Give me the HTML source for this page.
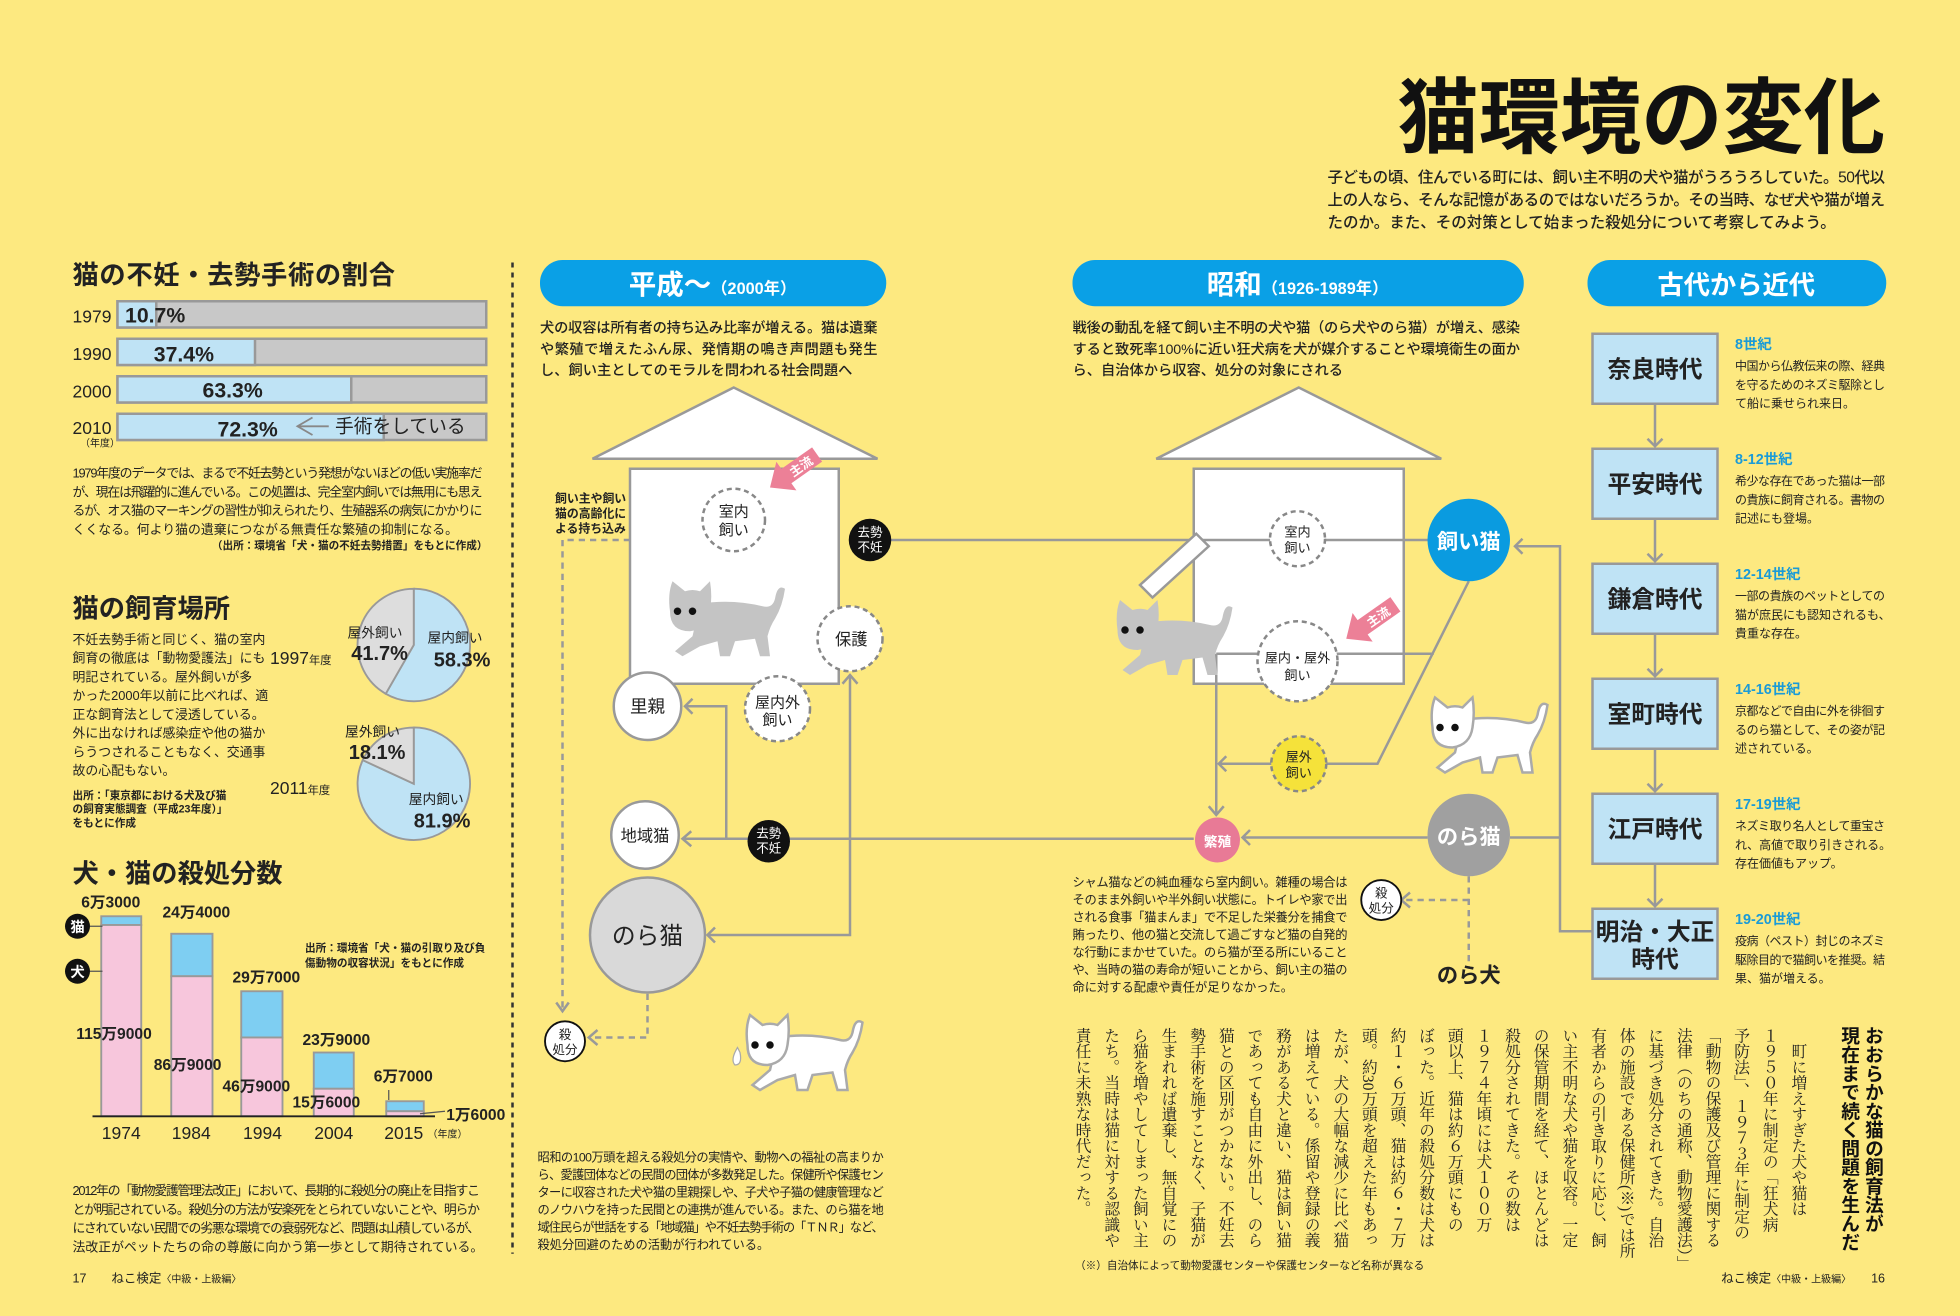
<!DOCTYPE html>
<html><head><meta charset="utf-8">
<style>
html,body{margin:0;padding:0;background:#FDE980;}
#s{width:1568px;height:1053px;transform:scale(1.25);transform-origin:0 0;position:relative;overflow:hidden;background:#FDE980;font-family:"Liberation Sans","Noto Sans CJK JP",sans-serif;}
svg{position:absolute;left:0;top:0;}
text{font-family:"Liberation Sans","Noto Sans CJK JP",sans-serif;fill:#222;}
.b{font-weight:bold;}
.vh{position:absolute;writing-mode:vertical-rl;font-family:"Liberation Sans","Noto Sans CJK JP",sans-serif;font-weight:bold;font-size:15px;line-height:19px;color:#111;white-space:nowrap;}
.vb{position:absolute;writing-mode:vertical-rl;font-family:"Liberation Serif","Noto Serif CJK SC",serif;font-size:12.6px;line-height:22.9px;color:#222;white-space:nowrap;}
</style></head><body>
<div id="s">
<svg width="1568" height="1053" viewBox="0 0 1568 1053">
<defs>
<g id="cat">
  <path d="M30,18 Q55,14 80,20 Q88,22 90,14 Q92,2 98,6 Q96,20 90,30 Q86,36 84,44 L86,60 L78,60 L74,46 L58,48 L54,60 L46,60 L44,48 L30,52 L16,60 L10,56 L24,44 Z"/>
  <path d="M6,24 Q4,10 8,0 L18,8 Q24,6 30,8 L38,0 Q40,12 38,24 Q36,38 22,40 Q6,40 6,24 Z"/>
</g>
</defs>

<!-- title -->
<text x="1118" y="117" class="b" font-size="66" textLength="390" lengthAdjust="spacingAndGlyphs" style="fill:#111">猫環境の変化</text>
<g font-size="12.4" class="b" style="font-weight:500">
<text x="1062" y="146" textLength="446">子どもの頃、住んでいる町には、飼い主不明の犬や猫がうろうろしていた。50代以</text>
<text x="1062" y="164" textLength="446">上の人なら、そんな記憶があるのではないだろうか。その当時、なぜ犬や猫が増え</text>
<text x="1062" y="182">たのか。また、その対策として始まった殺処分について考察してみよう。</text>
</g>

<!-- divider -->
<line x1="410" y1="210" x2="410" y2="1003" stroke="#333" stroke-width="2" stroke-dasharray="4 4"/>

<!-- ===== LEFT: sterilization bars ===== -->
<text x="58" y="227" class="b" font-size="21" textLength="258">猫の不妊・去勢手術の割合</text>
<g font-size="14" font-weight="500">
<text x="58" y="258">1979</text><text x="58" y="288">1990</text><text x="58" y="318">2000</text><text x="58" y="347">2010</text>
</g>
<text x="64" y="357" font-size="8">（年度）</text>
<g stroke="#999" stroke-width="2">
<rect x="94" y="241" width="295" height="21" fill="#c8c8c8"/><rect x="94" y="241" width="31" height="21" fill="#bfe3f5"/>
<rect x="94" y="271" width="295" height="21" fill="#c8c8c8"/><rect x="94" y="271" width="110" height="21" fill="#bfe3f5"/>
<rect x="94" y="301" width="295" height="21" fill="#c8c8c8"/><rect x="94" y="301" width="187" height="21" fill="#bfe3f5"/>
<rect x="94" y="331" width="295" height="21" fill="#c8c8c8"/><rect x="94" y="331" width="213" height="21" fill="#bfe3f5"/>
</g>
<g class="b" font-size="17">
<text x="100" y="258">10.7%</text><text x="123" y="289">37.4%</text><text x="162" y="318">63.3%</text><text x="174" y="349">72.3%</text>
</g>
<polyline points="250,334 238,341 250,348" fill="none" stroke="#888" stroke-width="1.5"/>
<line x1="238" y1="341" x2="263" y2="341" stroke="#888" stroke-width="1.5"/>
<text x="268" y="346" font-size="15">手術をしている</text>
<g font-size="10.3">
<text x="58" y="382" textLength="328">1979年度のデータでは、まるで不妊去勢という発想がないほどの低い実施率だ</text>
<text x="58" y="397" textLength="328">が、現在は飛躍的に進んでいる。この処置は、完全室内飼いでは無用にも思え</text>
<text x="58" y="412" textLength="328">るが、オス猫のマーキングの習性が抑えられたり、生殖器系の病気にかかりに</text>
<text x="58" y="427">くくなる。何より猫の遺棄につながる無責任な繁殖の抑制になる。</text>
</g>
<text x="390" y="439" font-size="8.5" class="b" text-anchor="end">（出所：環境省「犬・猫の不妊去勢措置」をもとに作成）</text>

<!-- ===== LEFT: pies ===== -->
<text x="58" y="494" class="b" font-size="21">猫の飼育場所</text>
<g font-size="10.3">
<text x="58" y="515">不妊去勢手術と同じく、猫の室内</text>
<text x="58" y="530">飼育の徹底は「動物愛護法」にも</text>
<text x="58" y="545">明記されている。屋外飼いが多</text>
<text x="58" y="560">かった2000年以前に比べれば、適</text>
<text x="58" y="575">正な飼育法として浸透している。</text>
<text x="58" y="590">外に出なければ感染症や他の猫か</text>
<text x="58" y="605">らうつされることもなく、交通事</text>
<text x="58" y="620">故の心配もない。</text>
</g>
<g font-size="8.5" class="b">
<text x="58" y="639">出所：「東京都における犬及び猫</text>
<text x="58" y="650">の飼育実態調査（平成23年度）」</text>
<text x="58" y="661">をもとに作成</text>
</g>
<g stroke="#999" stroke-width="1.5">
<path d="M331,516 L331,471 A45,45 0 1 1 308.6,555 Z" fill="#bfe3f5"/>
<path d="M331,516 L308.6,555 A45,45 0 0 1 331,471 Z" fill="#ddd"/>
<path d="M331,627 L331,582 A45,45 0 1 1 290.2,608.1 Z" fill="#bfe3f5"/>
<path d="M331,627 L290.2,608.1 A45,45 0 0 1 331,582 Z" fill="#ddd"/>
</g>
<text x="216" y="531" font-size="14">1997<tspan font-size="9">年度</tspan></text>
<text x="216" y="635" font-size="14">2011<tspan font-size="9">年度</tspan></text>
<g font-size="11">
<text x="278" y="510">屋外飼い</text><text x="342" y="514">屋内飼い</text>
<text x="276" y="589">屋外飼い</text><text x="327" y="643">屋内飼い</text>
</g>
<g class="b" font-size="16">
<text x="281" y="528">41.7%</text><text x="347" y="533">58.3%</text>
<text x="279" y="607">18.1%</text><text x="331" y="662">81.9%</text>
</g>

<!-- ===== LEFT: kill chart ===== -->
<text x="58" y="706" class="b" font-size="21">犬・猫の殺処分数</text>
<g stroke="#999" stroke-width="1.5">
<rect x="81" y="733" width="32" height="7" fill="#7ecef2"/><rect x="81" y="740" width="32" height="153" fill="#f7c6dc"/>
<rect x="137" y="747" width="33" height="34" fill="#7ecef2"/><rect x="137" y="781" width="33" height="112" fill="#f7c6dc"/>
<rect x="193" y="793" width="33" height="37" fill="#7ecef2"/><rect x="193" y="830" width="33" height="63" fill="#f7c6dc"/>
<rect x="251" y="842" width="32" height="29" fill="#7ecef2"/><rect x="251" y="871" width="32" height="22" fill="#f7c6dc"/>
<rect x="309" y="881" width="30" height="8" fill="#7ecef2"/><rect x="309" y="889" width="30" height="4" fill="#f7c6dc"/>
</g>
<line x1="74" y1="893" x2="348" y2="893" stroke="#222" stroke-width="1.5"/>
<line x1="72" y1="741" x2="82" y2="741" stroke="#555"/><line x1="72" y1="777" x2="82" y2="777" stroke="#555"/>
<line x1="311" y1="872" x2="311" y2="880" stroke="#555"/><line x1="336" y1="891" x2="356" y2="889" stroke="#555"/>
<circle cx="62" cy="741" r="10" fill="#111"/><circle cx="62" cy="777" r="10" fill="#111"/>
<text x="62" y="745.5" font-size="11.5" text-anchor="middle" class="b" style="fill:#fff">猫</text>
<text x="62" y="781.5" font-size="11.5" text-anchor="middle" class="b" style="fill:#fff">犬</text>
<g class="b" font-size="12.5">
<text x="65" y="726">6万3000</text><text x="130" y="734">24万4000</text>
<text x="61" y="831">115万9000</text><text x="123" y="856">86万9000</text>
<text x="186" y="786">29万7000</text><text x="178" y="873">46万9000</text>
<text x="242" y="836">23万9000</text><text x="234" y="886">15万6000</text>
<text x="299" y="865">6万7000</text><text x="357" y="896">1万6000</text>
</g>
<g font-size="8.5" class="b">
<text x="244" y="761">出所：環境省「犬・猫の引取り及び負</text>
<text x="244" y="773">傷動物の収容状況」をもとに作成</text>
</g>
<g font-size="14" text-anchor="middle">
<text x="97" y="911">1974</text><text x="153" y="911">1984</text><text x="210" y="911">1994</text><text x="267" y="911">2004</text><text x="323" y="911">2015</text>
</g>
<text x="342" y="910" font-size="8">（年度）</text>
<g font-size="10.3">
<text x="58" y="956" textLength="326">2012年の「動物愛護管理法改正」において、長期的に殺処分の廃止を目指すこ</text>
<text x="58" y="971" textLength="326">とが明記されている。殺処分の方法が安楽死をとられていないことや、明らか</text>
<text x="58" y="986" textLength="326">にされていない民間での劣悪な環境での衰弱死など、問題は山積しているが、</text>
<text x="58" y="1001">法改正がペットたちの命の尊厳に向かう第一歩として期待されている。</text>
</g>
<text x="58" y="1026" font-size="10">17　　ねこ検定<tspan font-size="8">〈中級・上級編〉</tspan></text>

<!-- ===== pills ===== -->
<rect x="432" y="208" width="277" height="37" rx="18" fill="#0aa0e6"/>
<text x="570" y="235" text-anchor="middle" class="b" style="fill:#fff"><tspan font-size="22">平成〜</tspan><tspan font-size="13">（2000年）</tspan></text>
<rect x="858" y="208" width="361" height="37" rx="18" fill="#0aa0e6"/>
<text x="1038" y="235" text-anchor="middle" class="b" style="fill:#fff"><tspan font-size="22">昭和</tspan><tspan font-size="13">（1926-1989年）</tspan></text>
<rect x="1270" y="208" width="239" height="37" rx="18" fill="#0aa0e6"/>
<text x="1389" y="235" text-anchor="middle" class="b" font-size="21" style="fill:#fff">古代から近代</text>

<g font-size="11.4" class="b" style="font-weight:500">
<text x="432" y="266" textLength="270">犬の収容は所有者の持ち込み比率が増える。猫は遺棄</text>
<text x="432" y="283" textLength="270">や繁殖で増えたふん尿、発情期の鳴き声問題も発生</text>
<text x="432" y="300">し、飼い主としてのモラルを問われる社会問題へ</text>
<text x="858" y="266" textLength="358">戦後の動乱を経て飼い主不明の犬や猫（のら犬やのら猫）が増え、感染</text>
<text x="858" y="283" textLength="358">すると致死率100%に近い狂犬病を犬が媒介することや環境衛生の面か</text>
<text x="858" y="300">ら、自治体から収容、処分の対象にされる</text>
</g>

<!-- houses -->
<g fill="#fff" stroke="#999" stroke-width="2">
<polygon points="587,310 474,367 702,367"/>
<rect x="504" y="375" width="167" height="172"/>
<polygon points="1039,310 925,367 1153,367"/>
<rect x="955" y="375" width="168" height="172"/>
</g>

<!-- connectors -->
<g fill="none" stroke="#999" stroke-width="2">
<line x1="696" y1="432" x2="1142" y2="432"/>
<polyline points="955,671 547,671"/>
<polyline points="581,671 581,565 548,565"/>
<polyline points="680,540 680,748 566,748"/>
<polyline points="973,523 1147,523"/>
<polyline points="973,523 973,652"/>
<polyline points="1175,465 1102,611 975,611"/>
<polyline points="1142,670 994,670"/>
<polyline points="1208,670 1248,670"/>
<polyline points="1212,437 1248,437 1248,745 1274,745"/>
<!-- arrowheads -->
<polyline points="553,665 546,671 553,677"/>
<polyline points="554,559 548,565 554,571"/>
<polyline points="674,547 680,540 686,547"/>
<polyline points="572,742 566,748 572,754"/>
<polyline points="967,645 973,652 979,645"/>
<polyline points="981,605 975,611 981,617"/>
<polyline points="1000,664 994,670 1000,676"/>
<polyline points="1218,431 1212,437 1218,443"/>
</g>
<g fill="none" stroke="#999" stroke-width="2" stroke-dasharray="5 4">
<polyline points="504,432 450,432 450,808"/>
<polyline points="518,795 518,830 472,830"/>
<polyline points="1175,701 1175,775"/>
<polyline points="1175,720 1122,720"/>
</g>
<g fill="none" stroke="#999" stroke-width="2">
<polyline points="445,802 450,809 455,802"/>
<polyline points="478,824 471,830 478,836"/>
<polyline points="1128,714 1121,720 1128,726"/>
</g>

<!-- door -->
<polygon points="957,427 967,437 922,478 912,468" fill="#fff" stroke="#999" stroke-width="2"/>

<!-- cats -->
<use href="#cat" transform="translate(530,465)" fill="#c4c4c4"/>
<use href="#cat" transform="translate(888,480)" fill="#c4c4c4"/>
<use href="#cat" transform="translate(1140,558)" fill="#fff" stroke="#aaa" stroke-width="2"/>
<use href="#cat" transform="translate(592,812)" fill="#fff" stroke="#aaa" stroke-width="2"/>
<g fill="#111">
<circle cx="542" cy="489" r="3"/><circle cx="554" cy="489" r="3"/>
<circle cx="900" cy="504" r="3"/><circle cx="912" cy="504" r="3"/>
<circle cx="1152" cy="582" r="3"/><circle cx="1164" cy="582" r="3"/>
<circle cx="604" cy="836" r="3"/><circle cx="616" cy="836" r="3"/>
</g>
<path d="M590,838 Q584,848 588,852 Q594,852 592,842 Z" fill="#fff" stroke="#aaa"/>

<!-- pink arrows -->
<g transform="translate(616,390) rotate(-35)">
<polygon points="0,0 16,-14 16,-7 46,-7 46,7 16,7 16,14" fill="#ec8097"/>
<text x="30" y="4" font-size="10" text-anchor="middle" class="b" transform="rotate(0)" style="fill:#fff">主流</text>
</g>
<g transform="translate(1077,511) rotate(-35)">
<polygon points="0,0 16,-14 16,-7 48,-7 48,7 16,7 16,14" fill="#ec8097"/>
<text x="31" y="4" font-size="10" text-anchor="middle" class="b" style="fill:#fff">主流</text>
</g>

<!-- nodes -->
<g stroke="#888" stroke-width="2" stroke-dasharray="4 3" fill="#fff">
<circle cx="587" cy="416" r="25"/>
<circle cx="680" cy="511" r="26"/>
<circle cx="622" cy="567" r="26"/>
<circle cx="1038" cy="431" r="22"/>
<circle cx="1038" cy="529" r="32"/>
<circle cx="1039" cy="611" r="22" fill="#f5e23a"/>
</g>
<g stroke="#999" stroke-width="2">
<circle cx="518" cy="565" r="27" fill="#fff"/>
<circle cx="516" cy="668" r="27" fill="#fff"/>
<circle cx="518" cy="748" r="46" fill="#d9d9d9"/>
</g>
<circle cx="452" cy="833" r="16" fill="#fff" stroke="#111" stroke-width="1.5"/>
<circle cx="1105" cy="720" r="16" fill="#fff" stroke="#111" stroke-width="1.5"/>
<circle cx="696" cy="432" r="17" fill="#111"/>
<circle cx="615" cy="673" r="17" fill="#111"/>
<circle cx="1175" cy="432" r="33" fill="#0a9be0"/>
<circle cx="1175" cy="668" r="33" fill="#a0a0a0"/>
<circle cx="974" cy="672" r="18" fill="#e87a96"/>

<g text-anchor="middle">
<text x="587" y="413" font-size="12">室内</text><text x="587" y="428" font-size="12">飼い</text>
<text x="681" y="516" font-size="13">保護</text>
<text x="622" y="566" font-size="12">屋内外</text><text x="622" y="580" font-size="12">飼い</text>
<text x="518" y="570" font-size="14">里親</text>
<text x="516" y="673" font-size="13">地域猫</text>
<text x="518" y="755" font-size="19">のら猫</text>
<text x="452" y="831" font-size="10">殺</text><text x="452" y="843" font-size="10">処分</text>
<text x="1105" y="718" font-size="10">殺</text><text x="1105" y="730" font-size="10">処分</text>
<text x="696" y="429" font-size="10" style="fill:#fff">去勢</text><text x="696" y="441" font-size="10" style="fill:#fff">不妊</text>
<text x="615" y="670" font-size="10" style="fill:#fff">去勢</text><text x="615" y="682" font-size="10" style="fill:#fff">不妊</text>
<text x="1038" y="429" font-size="10.5">室内</text><text x="1038" y="442" font-size="10.5">飼い</text>
<text x="1038" y="530" font-size="10.5">屋内・屋外</text><text x="1038" y="544" font-size="10.5">飼い</text>
<text x="1039" y="609" font-size="10.5">屋外</text><text x="1039" y="622" font-size="10.5">飼い</text>
<text x="1175" y="439" font-size="17" class="b" style="fill:#fff">飼い猫</text>
<text x="1175" y="675" font-size="17" class="b" style="fill:#fff">のら猫</text>
<text x="974" y="677" font-size="11" class="b" style="fill:#fff">繁殖</text>
<text x="1175" y="786" font-size="17" class="b">のら犬</text>
</g>
<g font-size="9.5" class="b">
<text x="444" y="402">飼い主や飼い</text><text x="444" y="414">猫の高齢化に</text><text x="444" y="426">よる持ち込み</text>
</g>

<g font-size="9.8">
<text x="858" y="709" textLength="220">シャム猫などの純血種なら室内飼い。雑種の場合は</text>
<text x="858" y="723" textLength="220">そのまま外飼いや半外飼い状態に。トイレや家で出</text>
<text x="858" y="737" textLength="220">される食事「猫まんま」で不足した栄養分を捕食で</text>
<text x="858" y="751" textLength="220">賄ったり、他の猫と交流して過ごすなど猫の自発的</text>
<text x="858" y="765" textLength="220">な行動にまかせていた。のら猫が至る所にいること</text>
<text x="858" y="779" textLength="220">や、当時の猫の寿命が短いことから、飼い主の猫の</text>
<text x="858" y="793">命に対する配慮や責任が足りなかった。</text>
</g>
<g font-size="9.8">
<text x="430" y="929" textLength="277">昭和の100万頭を超える殺処分の実情や、動物への福祉の高まりか</text>
<text x="430" y="943" textLength="277">ら、愛護団体などの民間の団体が多数発足した。保健所や保護セン</text>
<text x="430" y="957" textLength="277">ターに収容された犬や猫の里親探しや、子犬や子猫の健康管理など</text>
<text x="430" y="971" textLength="277">のノウハウを持った民間との連携が進んでいる。また、のら猫を地</text>
<text x="430" y="985" textLength="277">域住民らが世話をする「地域猫」や不妊去勢手術の「ＴＮＲ」など、</text>
<text x="430" y="999">殺処分回避のための活動が行われている。</text>
</g>

<!-- right timeline -->
<g fill="#bfe3f5" stroke="#999" stroke-width="2">
<rect x="1274" y="267" width="100" height="56"/>
<rect x="1274" y="359" width="100" height="56"/>
<rect x="1274" y="451" width="100" height="56"/>
<rect x="1274" y="543" width="100" height="56"/>
<rect x="1274" y="635" width="100" height="56"/>
<rect x="1274" y="727" width="100" height="56"/>
</g>
<g fill="none" stroke="#999" stroke-width="2">
<line x1="1324" y1="323" x2="1324" y2="357"/><polyline points="1318,351 1324,357 1330,351"/>
<line x1="1324" y1="415" x2="1324" y2="449"/><polyline points="1318,443 1324,449 1330,443"/>
<line x1="1324" y1="507" x2="1324" y2="541"/><polyline points="1318,535 1324,541 1330,535"/>
<line x1="1324" y1="599" x2="1324" y2="633"/><polyline points="1318,627 1324,633 1330,627"/>
<line x1="1324" y1="691" x2="1324" y2="725"/><polyline points="1318,719 1324,725 1330,719"/>
</g>
<g text-anchor="middle" class="b" font-size="19">
<text x="1324" y="302">奈良時代</text><text x="1324" y="394">平安時代</text><text x="1324" y="486">鎌倉時代</text>
<text x="1324" y="578">室町時代</text><text x="1324" y="670">江戸時代</text>
<text x="1324" y="752">明治・大正</text><text x="1324" y="774">時代</text>
</g>
<g class="b" font-size="11.5" style="fill:#1a9bd7">
<text x="1388" y="279" style="fill:#1a9bd7">8世紀</text><text x="1388" y="371" style="fill:#1a9bd7">8-12世紀</text>
<text x="1388" y="463" style="fill:#1a9bd7">12-14世紀</text><text x="1388" y="555" style="fill:#1a9bd7">14-16世紀</text>
<text x="1388" y="647" style="fill:#1a9bd7">17-19世紀</text><text x="1388" y="739" style="fill:#1a9bd7">19-20世紀</text>
</g>
<g font-size="9.6">
<text x="1388" y="296" textLength="120">中国から仏教伝来の際、経典</text><text x="1388" y="311" textLength="120">を守るためのネズミ駆除とし</text><text x="1388" y="326">て船に乗せられ来日。</text>
<text x="1388" y="388" textLength="120">希少な存在であった猫は一部</text><text x="1388" y="403" textLength="120">の貴族に飼育される。書物の</text><text x="1388" y="418">記述にも登場。</text>
<text x="1388" y="480" textLength="120">一部の貴族のペットとしての</text><text x="1388" y="495">猫が庶民にも認知されるも、</text><text x="1388" y="510">貴重な存在。</text>
<text x="1388" y="572" textLength="120">京都などで自由に外を徘徊す</text><text x="1388" y="587" textLength="120">るのら猫として、その姿が記</text><text x="1388" y="602">述されている。</text>
<text x="1388" y="664" textLength="120">ネズミ取り名人として重宝さ</text><text x="1388" y="679">れ、高値で取り引きされる。</text><text x="1388" y="694">存在価値もアップ。</text>
<text x="1388" y="756" textLength="120">疫病（ペスト）封じのネズミ</text><text x="1388" y="771" textLength="120">駆除目的で猫飼いを推奨。結</text><text x="1388" y="786">果、猫が増える。</text>
</g>

<text x="860" y="1015" font-size="8.5">（※）自治体によって動物愛護センターや保護センターなど名称が異なる</text>
<text x="1508" y="1026" font-size="10" text-anchor="end">ねこ検定<tspan font-size="8">〈中級・上級編〉</tspan>　　16</text>
</svg>

<div class="vh" style="right:60px;top:821px;height:190px;">おおらかな猫の飼育法が<br>現在まで続く問題を生んだ</div>
<div class="vb" style="right:119px;top:822px;height:190px;">　町に増えすぎた犬や猫は<br>１９５０年に制定の「狂犬病<br>予防法」、１９７３年に制定の<br>「動物の保護及び管理に関する<br>法律（のちの通称、動物愛護法）」<br>に基づき処分されてきた。自治<br>体の施設である保健所(※)では所<br>有者からの引き取りに応じ、飼<br>い主不明な犬や猫を収容。一定<br>の保管期間を経て、ほとんどは<br>殺処分されてきた。その数は<br>１９７４年頃には犬１００万<br>頭以上、猫は約６万頭にもの<br>ぼった。近年の殺処分数は犬は<br>約１・６万頭、猫は約６・７万<br>頭。約30万頭を超えた年もあっ<br>たが、犬の大幅な減少に比べ猫<br>は増えている。係留や登録の義<br>務がある犬と違い、猫は飼い猫<br>であっても自由に外出し、のら<br>猫との区別がつかない。不妊去<br>勢手術を施すことなく、子猫が<br>生まれれば遺棄し、無自覚にの<br>ら猫を増やしてしまった飼い主<br>たち。当時は猫に対する認識や<br>責任に未熟な時代だった。</div>
</div>
</body></html>
